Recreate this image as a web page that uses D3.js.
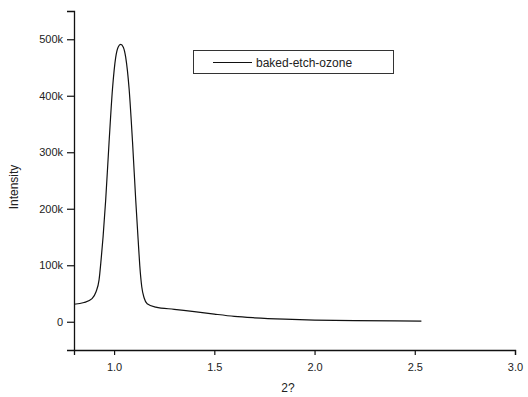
<!DOCTYPE html>
<html>
<head>
<meta charset="utf-8">
<script src="https://cdn.jsdelivr.net/npm/d3@7"></script>
<style>
  body { margin: 0; background: #fff; }
  svg text { font-family: "Liberation Sans", Arial, sans-serif; fill: #222; }
</style>
</head>
<body>
<svg id="chart" width="528" height="397"></svg>
<script>
// 2theta values and intensity
let twoTheta = [0.80, 0.85, 0.89, 0.91, 0.925, 0.935, 0.945, 0.958, 0.975, 0.992, 1.008, 1.020, 1.033,
                1.046, 1.058, 1.075, 1.092, 1.108, 1.120, 1.128, 1.138, 1.150, 1.165, 1.208, 1.30,
                1.40, 1.50, 1.60, 1.70, 1.85, 2.00, 2.20, 2.40, 2.533];
let intensity = [31000, 34000, 41000, 53000, 74000, 109000, 150000, 215000, 318000, 412000, 468000, 486000, 491000,
                 486000, 468000, 412000, 318000, 215000, 145000, 100000, 62000, 42000, 32000, 26000, 22000,
                 18000, 13500, 9500, 7000, 4500, 3000, 2000, 1500, 1200];
let xTicks = [1.0, 1.5, 2.0, 2.5, 3.0];
let yTicks = [0, 100000, 200000, 300000, 400000, 500000];
let seriesName = "baked-etch-ozone";

let svg = d3.select("#chart");
let mLeft = 74, mRight = 515, mTop = 11, mBottom = 350;

let x = d3.scaleLinear().domain([0.8, 3.0]).range([mLeft, mRight]);
let y = d3.scaleLinear().domain([-50000, 550000]).range([mBottom, mTop]);

// axes
svg.append("g")
    .attr("transform", `translate(0,${mBottom})`)
    .call(d3.axisBottom(x).tickValues(xTicks).tickFormat(d3.format(".1f")).tickSizeOuter(0).tickSize(5).tickPadding(8));
svg.append("g")
    .attr("transform", `translate(${mLeft},0)`)
    .call(d3.axisLeft(y).tickValues(yTicks).tickFormat(d => d == 0 ? "0" : (d / 1000) + "k").tickSizeOuter(0).tickSize(7).tickPadding(4));

svg.selectAll(".domain").attr("stroke", "#111").attr("stroke-width", 1.3);
svg.selectAll(".tick line").attr("stroke", "#111").attr("stroke-width", 1.2);
svg.selectAll(".tick text").attr("font-size", 11).attr("font-family", "Liberation Sans, Arial, sans-serif").attr("fill", "#222");

// axis titles
svg.append("text")
    .attr("x", 288).attr("y", 392)
    .attr("text-anchor", "middle")
    .attr("font-size", 12)
    .text("2?");
svg.append("text")
    .attr("transform", "translate(18,187) rotate(-90)")
    .attr("text-anchor", "middle")
    .attr("font-size", 12)
    .text("Intensity");

// curve
let pts = twoTheta.map((t, i) => [t, intensity[i]]);
let line = d3.line()
    .x(d => x(d[0]))
    .y(d => y(d[1]))
    .curve(d3.curveMonotoneX);
svg.append("path")
    .datum(pts)
    .attr("d", line)
    .attr("fill", "none")
    .attr("stroke", "#111")
    .attr("stroke-width", 1.2);

// legend
let lg = svg.append("g");
lg.append("rect")
    .attr("x", 193.5).attr("y", 50.5).attr("width", 200).attr("height", 23)
    .attr("fill", "#fff").attr("stroke", "#333").attr("stroke-width", 1);
lg.append("line")
    .attr("x1", 213).attr("x2", 252).attr("y1", 62.5).attr("y2", 62.5)
    .attr("stroke", "#111").attr("stroke-width", 1.2);
lg.append("text")
    .attr("x", 256).attr("y", 66.5)
    .attr("font-size", 12)
    .text(seriesName);
</script>
</body>
</html>
